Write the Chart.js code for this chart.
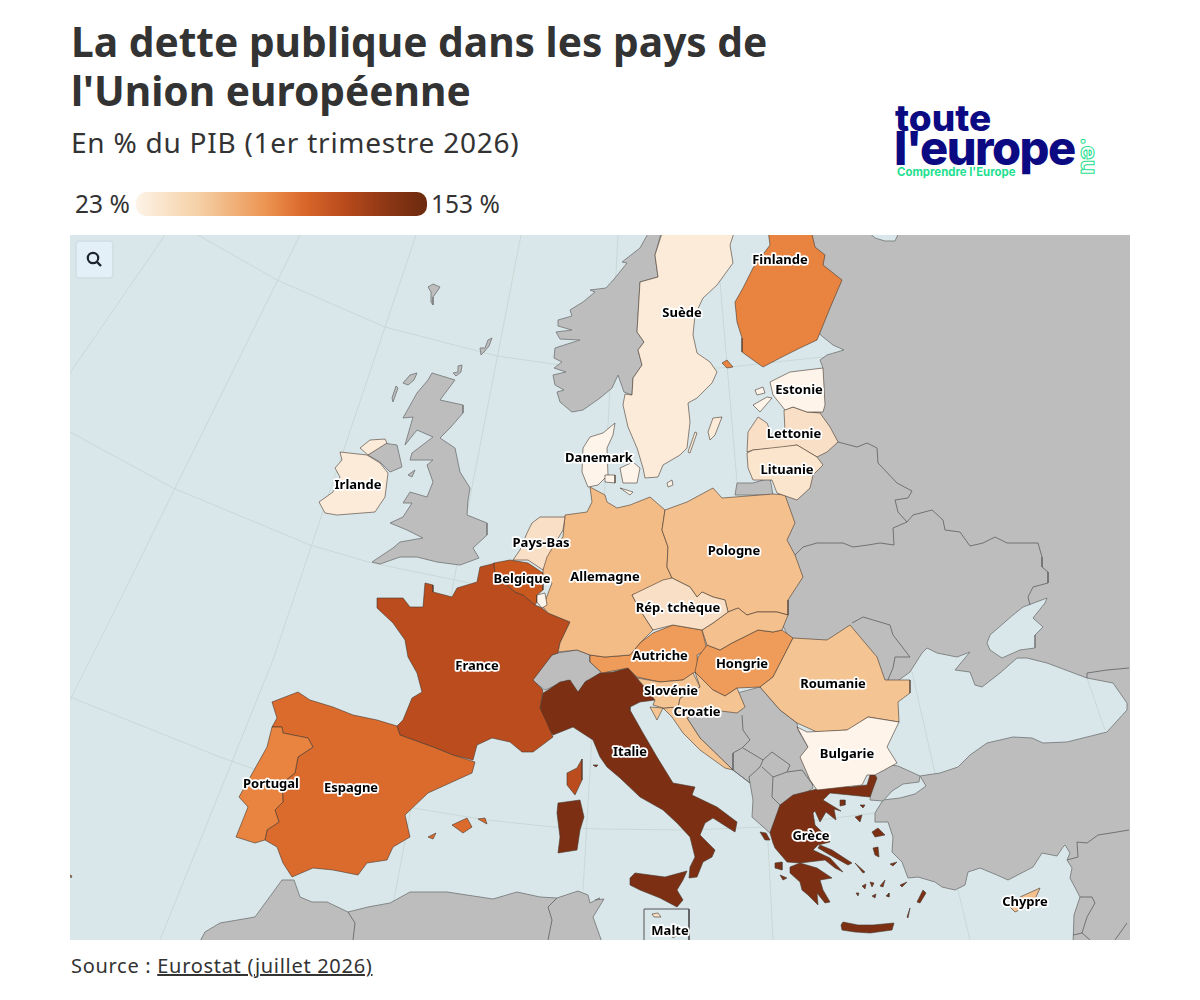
<!DOCTYPE html>
<html lang="fr">
<head>
<meta charset="utf-8">
<title>La dette publique dans les pays de l'Union européenne</title>
<script src="https://cdn.jsdelivr.net/npm/chart.js@4/dist/chart.umd.min.js"></script>
<style>
    html, body { margin: 0; padding: 0; background: #fff; }
    body { position: relative; width: 1200px; height: 1000px; overflow: hidden; font-family: "Noto Sans", sans-serif; color: #333; }
    .abs { position: absolute; white-space: nowrap; }
    #title { left: 71px; top: 17px; font-size: 40.7px; font-weight: 700; line-height: 49px; color: #333; }
    #subtitle { left: 71px; top: 123px; font-size: 28px; line-height: 38px; font-weight: 400; letter-spacing: 0.75px; color: #333; }
    .legend-label { top: 189px; font-size: 24.5px; line-height: 30px; color: #333; }
    #legend-bar { left: 136px; top: 192px; width: 291px; height: 24px; border-radius: 10px; background: linear-gradient(90deg, #fdf3e7 0%, #f5cfa4 22%, #ec9350 45%, #d9662a 58%, #b84a1c 72%, #8a3614 87%, #6c2a0e 100%); }
    #map-wrap { left: 70px; top: 235px; width: 1060px; height: 705px; background: #d9e7ea; }
    #search-btn { left: 75px; top: 240px; width: 35px; height: 35px; background: #e3f0f8; border: 2px solid #d3e0e6; border-radius: 4px; }
    #source { left: 71px; top: 952px; font-size: 20px; line-height: 28px; letter-spacing: 0.7px; color: #333; }
    #source a { color: #333; text-decoration: underline; }
    .logo-navy { color: #0b0a82; font-family: Inter, sans-serif; font-weight: 800; }
</style>
</head>
<body>
<div class="abs" id="title">La dette publique dans les pays de<br>l'Union européenne</div>
<div class="abs" id="subtitle">En % du PIB (1er trimestre 2026)</div>
<div class="abs legend-label" id="legend-min" style="left:75px">23 %</div>
<div class="abs" id="legend-bar"></div>
<div class="abs legend-label" id="legend-max" style="left:431px">153 %</div>

<div class="abs logo-navy" style="left:895px;top:96px;font-size:37px;line-height:44px;letter-spacing:0">toute</div>
<div class="abs logo-navy" style="left:894px;top:120px;font-size:47px;line-height:56px;letter-spacing:-1.5px">l'europe</div>
<div class="abs" style="left:897px;top:165px;font-family:Inter,sans-serif;font-size:11.4px;line-height:14px;font-weight:700;color:#1ee08f">Comprendre l'Europe</div>
<div class="abs" style="left:1068px;top:145px;width:42px;text-align:center;transform:rotate(90deg);font-family:Inter,sans-serif;font-size:24px;line-height:22px;font-weight:700;color:transparent;-webkit-text-stroke:1px #1ee08f">.eu</div>

<div class="abs" id="map-wrap"><canvas id="map" width="1060" height="705"></canvas></div>
<div class="abs" id="search-btn">
    <svg width="35" height="35" viewBox="0 0 35 35"><circle cx="16" cy="16" r="5.2" fill="none" stroke="#1c2430" stroke-width="2.2"/><line x1="20" y1="20" x2="24" y2="24" stroke="#1c2430" stroke-width="2.4"/></svg>
</div>
<div class="abs" id="source">Source : <a href="#">Eurostat (juillet 2026)</a></div>

<script>
const SEA_COLOR = '#d9e7ea';
const LAND_COLOR = '#bdbdbd';
const LAND_BORDER = '#7b7d7e';
const COUNTRY_BORDER = 'rgba(70, 55, 45, 0.75)';
const GRID_COLOR = '#c9d8d6';

// map extent, in the map's own units
const mapX = [70, 1130];
const mapY = [235, 940];

// debt classes
const classLimits = [28, 38, 43, 50, 58, 61, 66, 80, 92, 103, 110, 120, 160];
const classColors = ['#fef4ea', '#fcebd9', '#fbe5cd', '#f8dfc5', '#f4c593', '#f3c08e', '#f3bb85', '#ef9c5a', '#e8843f', '#db6a2d', '#c9581f', '#ba4c1e', '#7c2f13'];

// % of GDP, estimated from the class colours
const countries = ['Grèce', 'Italie', 'France', 'Belgique', 'Espagne', 'Portugal', 'Finlande', 'Autriche', 'Hongrie', 'Allemagne', 'Pologne', 'Slovaquie', 'Roumanie', 'Croatie', 'Slovénie', 'Chypre', 'Pays-Bas', 'Lettonie', 'Lituanie', 'Rép. tchèque', 'Malte', 'Suède', 'Irlande', 'Danemark', 'Estonie', 'Bulgarie', 'Luxembourg'];
const debtValues = [153, 138, 115, 107, 100, 90, 88, 80, 74, 63, 60, 60, 58, 57, 58, 60, 45, 46, 42, 44, 45, 34, 33, 27, 24, 26, 26];

const labelNames = ['Finlande', 'Suède', 'Estonie', 'Lettonie', 'Lituanie', 'Danemark', 'Irlande', 'Pays-Bas', 'Belgique', 'Allemagne', 'Pologne', 'Rép. tchèque', 'Autriche', 'Hongrie', 'Slovénie', 'Croatie', 'Roumanie', 'Bulgarie', 'France', 'Espagne', 'Portugal', 'Italie', 'Grèce', 'Chypre', 'Malte'];
const labelX = [780, 682, 799, 794, 787, 599, 358, 541, 522, 605, 734, 678, 660, 742, 671, 697, 833, 847, 477, 351, 271, 630, 811, 1025, 670];
const labelY = [260, 313, 390, 434, 470, 458, 485, 543, 579, 577, 551, 608, 656, 664, 691, 712, 684, 754, 666, 788, 784, 752, 836, 902, 931];

// graticule
const meridians = [
    [[165, 235], [70, 373]],
    [[300, 235], [115, 610], [70, 700]],
    [[416, 235], [273, 660], [160, 940]],
    [[521, 235], [453, 585], [392, 910]],
    [[618, 235], [608, 425], [592, 737], [583, 890]],
    [[716, 235], [737, 482], [768, 843], [773, 940]],
    [[912, 672], [935, 773]],
    [[958, 890], [970, 940]],
    [[1087, 678], [1105, 730]],
];
const parallels = [
    [[198, 235], [277, 280], [385, 327], [497, 356], [553, 364], [640, 370], [720, 368], [823, 357]],
    [[70, 432], [173, 488], [310, 545], [372, 563], [470, 583]],
    [[70, 697], [220, 757], [257, 770]],
    [[413, 808], [487, 820], [553, 827], [600, 829], [690, 830], [763, 827], [875, 813]],
];

// non-EU land
const eastLand = [[811, 230], [1135, 230], [1135, 945], [1073, 945], [1074, 915], [1080, 897], [1070, 878], [1072, 868], [1067, 860], [1070, 853], [1065, 845], [1063, 847], [1057, 856], [1042, 853], [1033, 867], [1008, 880], [997, 875], [980, 868], [968, 872], [965, 885], [955, 890], [942, 887], [935, 882], [918, 877], [908, 878], [902, 862], [892, 852], [893, 837], [888, 822], [875, 822], [875, 813], [883, 800], [900, 798], [915, 794], [926, 786], [920, 776], [940, 773], [958, 767], [970, 755], [987, 743], [1013, 737], [1032, 738], [1043, 743], [1067, 742], [1087, 737], [1107, 732], [1127, 710], [1127, 703], [1113, 683], [1087, 678], [1047, 663], [1027, 658], [1017, 658], [1000, 673], [982, 687], [975, 685], [970, 672], [955, 670], [970, 652], [957, 657], [937, 653], [927, 648], [922, 653], [910, 672], [885, 690], [840, 660], [795, 650], [770, 600], [770, 520], [775, 500], [790, 490], [805, 470], [810, 440], [815, 415], [815, 375], [823, 368], [820, 360], [827, 355], [844, 350], [833, 345], [823, 337], [815, 330]];
const azovSea = [[987, 643], [990, 635], [1013, 615], [1023, 607], [1047, 598], [1045, 603], [1033, 618], [1043, 627], [1035, 635], [1035, 648], [1020, 650], [1002, 658], [990, 650]];
const northLake = [[866, 230], [875, 238], [885, 241], [895, 241], [900, 230]];
const thrace = [[898, 766], [920, 776], [919, 782], [903, 784], [892, 791], [883, 801], [870, 800], [873, 778], [875, 774], [883, 764]];
const norway = [[662, 230], [655, 255], [658, 277], [640, 282], [637, 332], [644, 342], [638, 350], [642, 365], [633, 378], [632, 395], [624, 392], [618, 375], [612, 388], [600, 398], [583, 410], [572, 412], [560, 402], [557, 392], [564, 390], [555, 385], [553, 375], [566, 372], [554, 368], [562, 362], [554, 358], [555, 348], [580, 340], [560, 339], [556, 332], [572, 330], [558, 326], [558, 320], [572, 316], [570, 310], [583, 302], [595, 292], [590, 290], [606, 288], [615, 278], [627, 263], [622, 262], [640, 248], [650, 230]];
const britain = [[432, 373], [455, 380], [440, 400], [463, 405], [463, 413], [450, 428], [440, 438], [455, 448], [460, 472], [470, 488], [468, 500], [467, 515], [487, 523], [487, 535], [473, 548], [479, 558], [460, 565], [437, 562], [417, 557], [400, 557], [380, 564], [372, 562], [393, 548], [400, 542], [423, 538], [407, 530], [390, 523], [403, 517], [412, 503], [403, 503], [410, 492], [427, 497], [433, 482], [427, 465], [433, 460], [410, 460], [412, 453], [433, 437], [417, 430], [405, 445], [413, 417], [403, 418], [417, 393], [428, 380]];
const northIreland = [[368, 455], [383, 443], [397, 445], [402, 467], [390, 472], [380, 462]];
const hebrides = [[393, 402], [398, 388], [396, 386], [392, 398]];
const lewis = [[403, 383], [410, 375], [417, 373], [414, 380], [408, 385]];
const orkney = [[453, 373], [458, 372], [458, 366], [462, 365], [461, 372], [456, 376]];
const shetland = [[481, 355], [480, 348], [485, 348], [488, 340], [492, 338], [489, 346], [484, 352]];
const faroe = [[428, 287], [433, 284], [440, 287], [436, 293], [433, 297], [433, 305], [431, 302], [431, 292]];
const isleOfMan = [[408, 475], [415, 470], [412, 477]];
const switzerland = [[532, 680], [552, 655], [558, 653], [577, 650], [590, 655], [590, 662], [602, 673], [595, 683], [587, 680], [578, 693], [568, 680], [545, 690]];
const balkans = [[737, 693], [760, 687], [780, 710], [797, 723], [798, 730], [808, 747], [802, 758], [810, 773], [813, 788], [787, 805], [780, 807], [770, 833], [752, 817], [753, 800], [750, 783], [733, 770], [700, 738], [687, 718], [713, 710]];
const kaliningrad = [[737, 483], [753, 483], [770, 478], [773, 495], [735, 495]];
const africa = [[198, 945], [205, 932], [220, 923], [255, 917], [282, 880], [294, 880], [300, 897], [312, 902], [327, 902], [348, 912], [368, 907], [390, 903], [410, 892], [447, 892], [493, 899], [517, 892], [540, 897], [557, 898], [578, 891], [588, 895], [590, 903], [600, 898], [595, 900], [604, 899], [593, 917], [603, 945]];
const landShapes = [eastLand, thrace, norway, britain, northIreland, hebrides, lewis, orkney, shetland, faroe, isleOfMan, switzerland, balkans, kaliningrad, africa];
const seaShapes = [azovSea, northLake];

// borders between non-EU countries
const landBorders = [
    [[838, 442], [857, 447], [867, 443], [877, 448], [878, 463], [897, 483], [912, 491], [908, 498], [895, 500], [898, 512], [907, 522], [913, 515], [932, 510], [943, 520], [945, 530], [960, 532], [970, 546], [983, 543], [995, 537], [1007, 543], [1038, 543], [1042, 557], [1042, 567], [1048, 572], [1048, 583], [1033, 587], [1028, 597], [1030, 605]],
    [[907, 522], [893, 528], [894, 545], [880, 543], [868, 545], [853, 547], [843, 543], [817, 543], [803, 547], [795, 555]],
    [[852, 623], [863, 617], [890, 625], [893, 635], [910, 657], [895, 657], [893, 668], [887, 682]],
    [[1087, 678], [1087, 673], [1107, 670], [1129, 668]],
    [[1129, 830], [1117, 832], [1098, 835], [1087, 843], [1077, 842], [1078, 857], [1067, 860]],
    [[1080, 897], [1092, 897], [1095, 903], [1087, 917], [1082, 933]],
    [[1073, 935], [1082, 933], [1090, 940]],
    [[1127, 923], [1115, 940]],
    [[348, 912], [355, 923], [353, 940]],
    [[557, 898], [548, 907], [552, 920], [548, 940]],
    [[742, 715], [743, 730], [750, 740], [742, 748], [733, 753], [733, 770], [750, 783]],
    [[743, 748], [763, 760], [760, 767], [749, 777], [750, 783]],
    [[763, 760], [772, 752], [790, 765], [787, 772], [773, 777], [762, 767]],
    [[787, 772], [802, 770], [813, 785]],
    [[773, 777], [772, 797], [780, 805]],
];

// EU countries, several rings each
const greece = [
    [[780, 805], [793, 795], [813, 790], [837, 783], [850, 787], [867, 785], [870, 775], [875, 775], [877, 778], [870, 797], [850, 795], [830, 793], [823, 800], [841, 811], [834, 809], [836, 820], [826, 812], [820, 822], [815, 811], [813, 813], [815, 825], [825, 835], [830, 842], [818, 845], [813, 850], [830, 858], [843, 872], [835, 868], [825, 860], [800, 863], [787, 862], [775, 848], [773, 843], [770, 833]],
    [[820, 845], [832, 850], [852, 863], [848, 865], [830, 855], [818, 848]],
    [[790, 867], [800, 863], [817, 868], [832, 878], [820, 880], [823, 890], [830, 902], [825, 903], [817, 893], [818, 905], [808, 895], [802, 890], [800, 882], [790, 873]],
    [[841, 925], [843, 922], [858, 925], [873, 925], [894, 923], [892, 930], [870, 933], [855, 932], [842, 930]],
    [[760, 832], [766, 833], [770, 840], [765, 840]],
    [[775, 863], [782, 862], [782, 870], [775, 868]],
    [[780, 875], [787, 878], [783, 880]],
    [[872, 832], [878, 828], [885, 835], [875, 837]],
    [[873, 848], [878, 847], [879, 857], [875, 855]],
    [[890, 864], [897, 862], [893, 866]],
    [[840, 800], [845, 800], [845, 805], [840, 806]],
    [[860, 805], [865, 805], [863, 808]],
    [[855, 817], [862, 815], [860, 822]],
    [[917, 902], [923, 890], [926, 893], [920, 903]],
    [[870, 882], [874, 883], [872, 887]],
    [[900, 885], [907, 882], [902, 887]],
    [[907, 917], [910, 908], [908, 918]],
    [[855, 863], [865, 872], [863, 873]],
    [[862, 886], [866, 884], [865, 889]],
    [[880, 886], [885, 880], [883, 887]],
    [[886, 896], [889, 893], [889, 897]],
    [[856, 893], [859, 893], [858, 896]],
    [[872, 896], [876, 894], [875, 898]],
];
const italy = [
    [[543, 693], [548, 690], [560, 682], [570, 680], [578, 692], [585, 682], [600, 673], [613, 672], [628, 668], [637, 678], [647, 690], [655, 700], [640, 702], [630, 707], [630, 710], [643, 733], [657, 757], [673, 783], [695, 787], [692, 795], [717, 807], [737, 822], [735, 832], [727, 827], [713, 818], [705, 823], [700, 835], [715, 850], [712, 857], [703, 862], [697, 877], [689, 878], [690, 867], [695, 857], [690, 837], [677, 823], [663, 810], [640, 797], [620, 778], [607, 767], [600, 757], [593, 740], [573, 727], [553, 735], [542, 720], [540, 708]],
    [[630, 878], [635, 873], [650, 875], [665, 877], [687, 871], [683, 880], [677, 890], [683, 900], [677, 907], [660, 898], [640, 890], [630, 885]],
    [[558, 803], [580, 800], [584, 817], [580, 830], [577, 850], [558, 853], [560, 837], [557, 813]],
    [[593, 765], [598, 765], [596, 767]],
];
const france = [
    [[494, 563], [495, 575], [515, 592], [523, 595], [535, 605], [542, 608], [548, 613], [570, 622], [560, 643], [558, 653], [552, 655], [533, 680], [543, 690], [540, 708], [547, 723], [553, 737], [533, 752], [522, 752], [510, 742], [492, 738], [477, 745], [473, 760], [453, 755], [433, 747], [400, 735], [397, 726], [403, 720], [412, 698], [422, 692], [417, 673], [408, 657], [405, 640], [393, 623], [377, 608], [377, 598], [403, 598], [410, 607], [423, 607], [425, 583], [433, 585], [433, 592], [452, 597], [457, 588], [477, 582], [480, 567], [492, 564]],
    [[582, 759], [582, 780], [575, 795], [567, 785], [567, 773], [577, 768]],
];
const belgium = [[[494, 563], [510, 560], [528, 563], [543, 573], [543, 590], [537, 595], [537, 602], [535, 605], [523, 595], [515, 592], [495, 575]]];
const spain = [
    [[272, 702], [298, 692], [310, 700], [333, 707], [353, 715], [377, 720], [397, 726], [400, 735], [433, 747], [453, 755], [475, 762], [472, 773], [450, 783], [428, 793], [405, 815], [410, 837], [393, 847], [387, 860], [367, 863], [358, 875], [333, 870], [313, 868], [292, 877], [283, 863], [277, 847], [265, 840], [267, 830], [279, 822], [275, 810], [283, 802], [282, 783], [295, 773], [298, 757], [313, 747], [308, 738], [283, 733], [282, 727], [272, 727], [277, 718]],
    [[452, 825], [467, 818], [472, 827], [463, 833]],
    [[478, 819], [485, 818], [487, 824]],
    [[428, 837], [436, 833], [433, 839]],
];
const portugal = [
    [[272, 727], [282, 727], [283, 733], [308, 738], [313, 747], [298, 757], [295, 773], [282, 783], [283, 802], [275, 810], [279, 822], [267, 830], [265, 840], [255, 843], [236, 837], [248, 807], [239, 797], [253, 772], [267, 747]],
    [[70, 875], [72, 876], [71, 878]],
];
const finland = [
    [[768, 230], [770, 245], [753, 268], [743, 288], [735, 302], [737, 322], [742, 338], [742, 352], [753, 360], [763, 367], [780, 358], [800, 348], [817, 340], [830, 308], [842, 280], [823, 265], [825, 255], [815, 247], [811, 230]],
    [[722, 363], [727, 360], [733, 367], [727, 368]],
];
const austria = [[[640, 643], [653, 633], [673, 625], [702, 630], [707, 650], [697, 655], [698, 670], [683, 680], [660, 682], [637, 677], [628, 668], [602, 673], [590, 662], [590, 655], [605, 657], [630, 655]]];
const hungary = [[[707, 645], [720, 650], [732, 643], [758, 630], [773, 632], [782, 630], [793, 638], [773, 677], [760, 687], [737, 688], [725, 696], [713, 690], [695, 672], [698, 657]]];
const germany = [[[590, 487], [605, 495], [607, 502], [617, 508], [630, 505], [650, 497], [665, 510], [662, 530], [668, 547], [667, 567], [672, 578], [657, 587], [632, 595], [640, 610], [653, 630], [640, 643], [630, 655], [605, 657], [590, 655], [577, 650], [558, 652], [560, 643], [570, 622], [548, 613], [543, 607], [552, 583], [543, 577], [543, 555], [563, 537], [565, 515], [587, 512], [592, 502]]];
const poland = [[[665, 510], [687, 502], [713, 488], [722, 498], [773, 494], [785, 495], [795, 523], [787, 540], [795, 555], [803, 577], [788, 600], [788, 615], [777, 612], [757, 612], [747, 615], [738, 608], [728, 612], [725, 600], [713, 597], [702, 592], [697, 597], [690, 587], [672, 578], [667, 567], [668, 547], [662, 530]]];
const slovakia = [[[728, 612], [738, 608], [747, 615], [757, 612], [777, 612], [788, 615], [782, 630], [773, 632], [758, 630], [732, 643], [720, 650], [707, 645], [702, 630], [713, 623]]];
const romania = [[[793, 638], [827, 640], [850, 625], [877, 657], [885, 680], [910, 680], [910, 693], [898, 702], [899, 722], [868, 717], [848, 730], [817, 732], [797, 723], [780, 710], [760, 687], [773, 677]]];
const croatia = [[[695, 672], [713, 690], [725, 696], [737, 688], [745, 707], [737, 713], [713, 710], [687, 718], [700, 738], [733, 770], [725, 768], [700, 750], [683, 733], [672, 717], [663, 708], [657, 720], [650, 707], [663, 708], [678, 707], [680, 698], [700, 687]]];
const slovenia = [[[637, 678], [660, 682], [683, 680], [693, 673], [700, 687], [680, 698], [678, 707], [663, 708], [653, 705], [655, 700], [647, 690]]];
const cyprus = [[[1010, 907], [1020, 897], [1040, 888], [1036, 897], [1030, 905], [1015, 912]]];
const netherlands = [[[532, 523], [540, 517], [565, 517], [563, 530], [547, 557], [543, 570], [528, 560], [513, 560], [520, 550], [527, 533]]];
const latvia = [[[747, 452], [748, 432], [758, 417], [767, 423], [773, 438], [785, 432], [784, 410], [793, 407], [807, 412], [820, 413], [830, 427], [838, 442], [827, 452], [817, 457], [797, 445], [780, 448], [753, 450]]];
const lithuania = [[[747, 453], [753, 450], [780, 447], [797, 445], [817, 457], [823, 465], [813, 475], [810, 488], [797, 500], [777, 493], [772, 480], [753, 480], [748, 468]]];
const czechia = [[[632, 595], [663, 580], [672, 578], [690, 587], [697, 597], [702, 592], [713, 597], [725, 600], [728, 612], [713, 623], [702, 630], [673, 625], [653, 630], [640, 610]]];
const malta = [[[652, 914], [658, 913], [661, 917], [654, 917]], [[670, 932], [677, 935], [673, 938]]];
const sweden = [
    [[663, 230], [735, 230], [730, 245], [733, 263], [717, 285], [703, 298], [695, 315], [693, 335], [697, 353], [710, 362], [717, 372], [712, 383], [697, 398], [688, 403], [690, 422], [687, 448], [680, 455], [663, 465], [658, 477], [645, 478], [643, 468], [637, 448], [628, 427], [623, 405], [625, 394], [632, 395], [633, 378], [642, 365], [638, 350], [644, 342], [637, 332], [640, 282], [658, 277], [655, 255]],
    [[708, 432], [713, 418], [722, 417], [715, 435], [710, 440]],
    [[688, 452], [695, 432], [697, 433], [690, 453]],
];
const ireland = [
    [[340, 452], [367, 455], [380, 463], [388, 473], [385, 497], [375, 512], [337, 515], [325, 513], [319, 502], [333, 492], [340, 477], [335, 468], [342, 460]],
    [[360, 448], [370, 440], [385, 439], [387, 443], [368, 455]],
];
const denmark = [
    [[615, 423], [613, 435], [607, 448], [608, 475], [598, 485], [588, 487], [582, 472], [583, 448], [590, 437], [603, 433]],
    [[620, 468], [633, 462], [640, 468], [637, 483], [623, 483]],
    [[605, 475], [615, 475], [615, 483], [605, 482]],
    [[620, 488], [633, 492], [630, 495]],
    [[667, 483], [672, 480], [673, 485], [668, 487]],
];
const estonia = [
    [[770, 382], [790, 372], [823, 368], [825, 405], [823, 412], [807, 412], [793, 407], [785, 410], [773, 395]],
    [[753, 405], [767, 397], [772, 398], [760, 412]],
    [[755, 390], [763, 387], [765, 393], [757, 395]],
];
const bulgaria = [[[797, 727], [807, 732], [847, 730], [868, 717], [899, 722], [887, 747], [897, 763], [875, 775], [867, 775], [862, 785], [817, 790], [810, 780], [800, 757], [808, 747]]];
const luxembourg = [[[537, 595], [545, 593], [547, 605], [542, 608], [537, 602]]];
const countryShapes = [greece, italy, france, belgium, spain, portugal, finland, austria, hungary, germany, poland, slovakia, romania, croatia, slovenia, cyprus, netherlands, latvia, lithuania, czechia, malta, sweden, ireland, denmark, estonia, bulgaria, luxembourg];

const maltaBox = [[644, 941], [644, 909], [689, 909], [689, 941]];

function colorFor(value) {
    const index = classLimits.findIndex((limit) => value <= limit);
    return classColors[index];
}

function toPoints(ring) {
    return ring.map(([x, y]) => ({ x, y }));
}

function lineDataset(line, color, width) {
    return {
        data: toPoints(line),
        showLine: true,
        fill: false,
        borderColor: color,
        borderWidth: width,
        pointRadius: 0,
        tension: 0,
    };
}

function shapeDataset(ring, fillColor, borderColor, width) {
    return {
        data: toPoints([...ring, ring[0]]),
        showLine: true,
        fill: 'shape',
        backgroundColor: fillColor,
        borderColor,
        borderWidth: width,
        borderJoinStyle: 'round',
        pointRadius: 0,
        tension: 0,
    };
}

const datasets = [];
[...meridians, ...parallels].forEach((line) => datasets.push(lineDataset(line, GRID_COLOR, 1)));
landShapes.forEach((ring) => datasets.push(shapeDataset(ring, LAND_COLOR, LAND_BORDER, 0.9)));
seaShapes.forEach((ring) => datasets.push(shapeDataset(ring, SEA_COLOR, LAND_BORDER, 0.9)));
landBorders.forEach((line) => datasets.push(lineDataset(line, '#666a6b', 0.9)));
datasets.push(lineDataset(maltaBox, '#555', 1));
countryShapes.forEach((rings, index) => {
    const color = colorFor(debtValues[index]);
    rings.forEach((ring) => datasets.push(shapeDataset(ring, color, COUNTRY_BORDER, 0.8)));
});
// Chart.js paints the first dataset last, the graticule has to stay underneath
datasets.reverse();

// country names with a white halo
const mapLabels = {
    id: 'mapLabels',
    afterDatasetsDraw(chart) {
        const { ctx, scales } = chart;
        ctx.save();
        ctx.font = '700 13px "Noto Sans", sans-serif';
        ctx.textAlign = 'center';
        ctx.textBaseline = 'middle';
        ctx.lineJoin = 'round';
        labelNames.forEach((name, index) => {
            const x = scales.x.getPixelForValue(labelX[index]);
            const y = scales.y.getPixelForValue(labelY[index]);
            ctx.strokeStyle = '#fff';
            ctx.lineWidth = 3.5;
            ctx.strokeText(name, x, y);
            ctx.fillStyle = '#000';
            ctx.fillText(name, x, y);
        });
        ctx.restore();
    },
};

new Chart(document.getElementById('map'), {
    type: 'scatter',
    data: { datasets },
    plugins: [mapLabels],
    options: {
        responsive: false,
        animation: false,
        layout: { padding: 0 },
        scales: {
            x: { type: 'linear', min: mapX[0], max: mapX[1], display: false },
            y: { type: 'linear', min: mapY[0], max: mapY[1], reverse: true, display: false },
        },
        plugins: {
            legend: { display: false },
            tooltip: { enabled: false },
        },
    },
});
</script>
</body>
</html>
